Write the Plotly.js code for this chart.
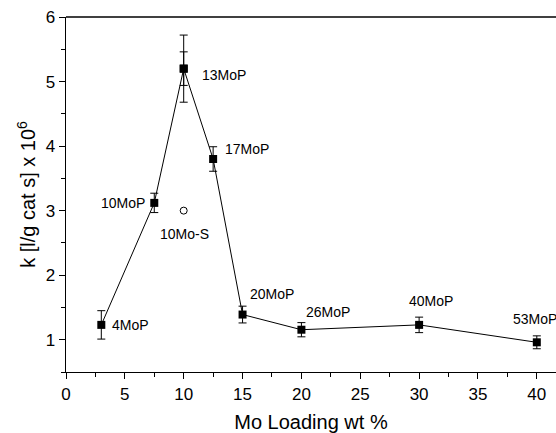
<!DOCTYPE html>
<html>
<head>
<meta charset="utf-8">
<script src="https://cdn.plot.ly/plotly-3.0.1.min.js"></script>
<style>html,body{margin:0;padding:0;background:#fff}</style>
</head>
<body>
<div id="chart" style="width:556px;height:433px"></div>
<script>
const loading = [3, 7.5, 10, 12.5, 15, 20, 30, 40];
const kValues = [1.23, 3.12, 5.2, 3.8, 1.39, 1.155, 1.23, 0.96];
const kErrors = [0.22, 0.15, 0.52, 0.19, 0.13, 0.11, 0.12, 0.10];
const innerX = [10];
const innerY = [5.2];
const innerErr = [0.26];
const sulfX = [10];
const sulfY = [3.0];
const labels = ["4MoP", "10MoP", "13MoP", "17MoP", "20MoP", "26MoP", "40MoP", "53MoP", "10Mo-S"];
const labelX = [3.7, 6.9, 11.4, 13.3, 15.5, 20.2, 29.0, 37.8, 10.1];
const labelY = [1.23, 3.12, 5.1, 3.95, 1.71, 1.43, 1.6, 1.32, 2.64];
const labelAnchor = ["left", "right", "left", "left", "left", "left", "left", "left", "center"];

const font = {family: "Liberation Sans, Arial, sans-serif", color: "#000"};

const traces = [
  {
    x: loading, y: kValues, type: "scatter", mode: "lines+markers",
    line: {color: "#000", width: 1},
    marker: {symbol: "square", size: 8, color: "#000"},
    error_y: {type: "data", array: kErrors, visible: true, color: "#000", thickness: 1, width: 4},
    hoverinfo: "x+y"
  },
  {
    x: innerX, y: innerY, type: "scatter", mode: "markers",
    marker: {symbol: "square", size: 8, color: "#000"},
    error_y: {type: "data", array: innerErr, visible: true, color: "#000", thickness: 1, width: 4}
  },
  {
    x: sulfX, y: sulfY, type: "scatter", mode: "markers",
    marker: {symbol: "circle-open", size: 7, color: "#000", line: {width: 1, color: "#000"}}
  }
];

const annotations = labels.map((t, i) => ({
  x: labelX[i], y: labelY[i], xref: "x", yref: "y", text: t, showarrow: false,
  xanchor: labelAnchor[i], yanchor: "middle",
  font: Object.assign({size: 14}, font)
}));

const layout = {
  width: 556, height: 433,
  margin: {l: 66, r: 0, t: 17, b: 61},
  paper_bgcolor: "#fff", plot_bgcolor: "#fff",
  showlegend: false,
  font: font,
  xaxis: {
    range: [0, 41.63], tickvals: [0,5,10,15,20,25,30,35,40],
    ticks: "outside", ticklen: 6, tickwidth: 1, tickcolor: "#000",
    minor: {dtick: 2.5, tick0: 0, ticks: "outside", ticklen: 4, tickwidth: 1, tickcolor: "#000"},
    showline: true, linecolor: "#000", linewidth: 1.3, mirror: false,
    showgrid: false, zeroline: false,
    tickfont: Object.assign({size: 17}, font),
    title: {text: "Mo Loading wt %", font: Object.assign({size: 20}, font), standoff: 12}
  },
  yaxis: {
    range: [0.5, 6], tickvals: [1,2,3,4,5,6],
    ticks: "outside", ticklen: 6, tickwidth: 1, tickcolor: "#000",
    minor: {dtick: 0.5, tick0: 0.5, ticks: "outside", ticklen: 4, tickwidth: 1, tickcolor: "#000"},
    showline: true, linecolor: "#000", linewidth: 1.3,
    showgrid: false, zeroline: false,
    tickfont: Object.assign({size: 17}, font),
    title: {text: "k [l/g cat s] x 10<sup>6</sup>", font: Object.assign({size: 20}, font), standoff: 4}
  },
  shapes: [
    {type: "line", xref: "paper", yref: "paper", x0: 0, x1: 1, y0: 1, y1: 1, line: {color: "#000", width: 1.3}}
  ],
  annotations: annotations
};

Plotly.newPlot("chart", traces, layout, {displayModeBar: false, staticPlot: true});
</script>
</body>
</html>
